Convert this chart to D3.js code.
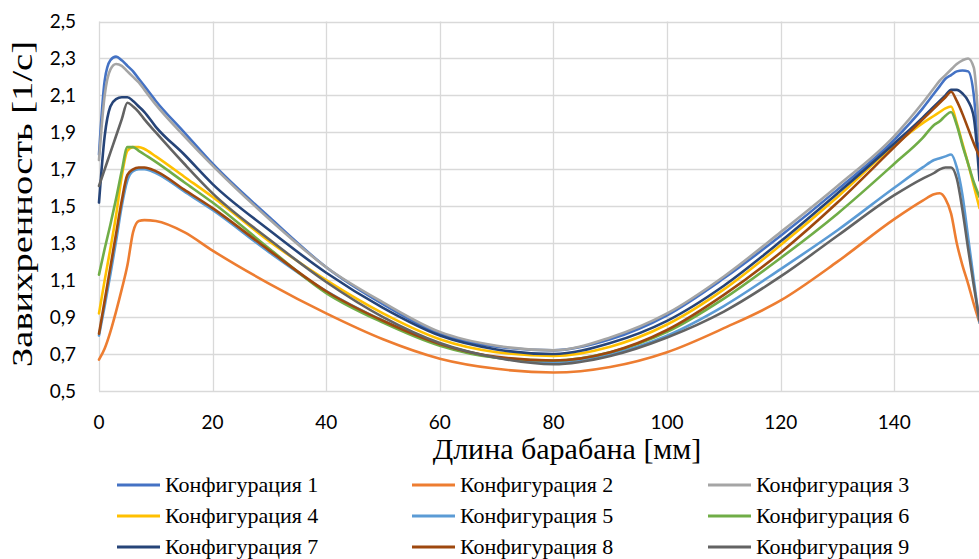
<!DOCTYPE html>
<html>
<head>
<meta charset="utf-8">
<script src="https://cdn.jsdelivr.net/npm/d3@7"></script>
<style>
  body { margin: 0; background: #fff; }
  svg { display: block; }
  .tick-lbl { font-family: Lato, "Open Sans", sans-serif; font-size: 19px; fill: #000; }
  .title { font-family: "Liberation Serif", "Times New Roman", serif; font-size: 30px; fill: #000; }
  .legend text { font-family: "Liberation Serif", "Times New Roman", serif; font-size: 22px; fill: #000; }
</style>
</head>
<body>
<div id="chart"></div>
<script>
// длина барабана, мм
var lengthMm = [0, 1, 2, 3, 4, 5, 6, 7, 8, 10, 15, 20, 30, 40, 50, 60, 70, 80, 90, 100, 110, 120, 130, 140, 145, 147, 148, 149, 150, 151, 152, 153, 154, 155];

var config1 = [1.78, 2.18, 2.29, 2.31, 2.29, 2.26, 2.23, 2.19, 2.15, 2.07, 1.90, 1.73, 1.44, 1.17, 0.97, 0.81, 0.74, 0.72, 0.78, 0.91, 1.11, 1.34, 1.59, 1.86, 2.03, 2.11, 2.15, 2.19, 2.21, 2.23, 2.235, 2.23, 2.10, 1.70];
var config2 = [0.67, 0.73, 0.82, 0.93, 1.05, 1.18, 1.36, 1.42, 1.425, 1.42, 1.36, 1.26, 1.08, 0.92, 0.78, 0.675, 0.62, 0.60, 0.63, 0.71, 0.84, 0.99, 1.20, 1.43, 1.53, 1.565, 1.57, 1.54, 1.46, 1.30, 1.18, 1.08, 0.97, 0.87];
var config3 = [1.75, 2.10, 2.24, 2.27, 2.26, 2.23, 2.20, 2.17, 2.13, 2.05, 1.88, 1.72, 1.43, 1.17, 0.98, 0.82, 0.745, 0.72, 0.79, 0.92, 1.12, 1.36, 1.61, 1.88, 2.06, 2.14, 2.18, 2.21, 2.24, 2.27, 2.29, 2.30, 2.25, 1.85];
var config4 = [0.92, 1.10, 1.27, 1.45, 1.66, 1.80, 1.82, 1.82, 1.81, 1.77, 1.66, 1.55, 1.31, 1.10, 0.92, 0.78, 0.71, 0.69, 0.74, 0.86, 1.05, 1.29, 1.55, 1.83, 1.95, 1.99, 2.01, 2.03, 2.04, 1.95, 1.84, 1.73, 1.61, 1.49];
var config5 = [0.80, 0.96, 1.13, 1.31, 1.50, 1.64, 1.69, 1.70, 1.70, 1.68, 1.58, 1.48, 1.25, 1.04, 0.88, 0.755, 0.68, 0.655, 0.70, 0.80, 0.96, 1.16, 1.37, 1.60, 1.71, 1.75, 1.76, 1.77, 1.78, 1.71, 1.56, 1.33, 1.10, 0.87];
var config6 = [1.13, 1.27, 1.40, 1.54, 1.69, 1.82, 1.82, 1.80, 1.78, 1.74, 1.63, 1.52, 1.27, 1.03, 0.87, 0.745, 0.68, 0.665, 0.71, 0.82, 1.00, 1.22, 1.46, 1.73, 1.87, 1.94, 1.96, 1.99, 2.01, 1.94, 1.83, 1.73, 1.63, 1.55];
var config7 = [1.52, 1.88, 2.04, 2.08, 2.09, 2.09, 2.07, 2.04, 2.01, 1.93, 1.78, 1.62, 1.37, 1.14, 0.95, 0.80, 0.725, 0.70, 0.76, 0.88, 1.07, 1.31, 1.57, 1.84, 1.98, 2.04, 2.07, 2.10, 2.13, 2.13, 2.11, 2.07, 1.98, 1.64];
var config8 = [0.81, 0.99, 1.17, 1.35, 1.53, 1.67, 1.70, 1.71, 1.71, 1.69, 1.59, 1.49, 1.26, 1.04, 0.88, 0.755, 0.685, 0.665, 0.71, 0.83, 1.02, 1.25, 1.52, 1.82, 1.97, 2.03, 2.06, 2.09, 2.12, 2.07, 2.00, 1.92, 1.84, 1.77];
var config9 = [1.61, 1.70, 1.79, 1.88, 1.97, 2.06, 2.04, 2.01, 1.97, 1.90, 1.73, 1.57, 1.32, 1.09, 0.90, 0.76, 0.68, 0.645, 0.69, 0.79, 0.93, 1.12, 1.34, 1.56, 1.65, 1.68, 1.70, 1.71, 1.71, 1.65, 1.48, 1.27, 1.07, 0.88];

var seriesNames = ["Конфигурация 1", "Конфигурация 2", "Конфигурация 3", "Конфигурация 4", "Конфигурация 5", "Конфигурация 6", "Конфигурация 7", "Конфигурация 8", "Конфигурация 9"];
var seriesValues = [config1, config2, config3, config4, config5, config6, config7, config8, config9];
var colors = ["#4472C4", "#ED7D31", "#A5A5A5", "#FFC000", "#5B9BD5", "#70AD47", "#264478", "#9E480E", "#636363"];

var xTicks = [0, 20, 40, 60, 80, 100, 120, 140];
var yTicks = [0.5, 0.7, 0.9, 1.1, 1.3, 1.5, 1.7, 1.9, 2.1, 2.3, 2.5];

var width = 979, height = 559;
var plotLeft = 99, plotRight = 979.5, plotTop = 21.5, plotBottom = 391;

var svg = d3.select("#chart").append("svg")
  .attr("width", width)
  .attr("height", height);

var x = d3.scaleLinear().domain([0, 155]).range([plotLeft, plotRight]);
var y = d3.scaleLinear().domain([0.5, 2.5]).range([plotBottom, plotTop]);

// сетка
var grid = svg.append("g").attr("class", "grid");
grid.selectAll("line.h")
  .data(yTicks)
  .enter().append("line")
  .attr("x1", plotLeft).attr("x2", width)
  .attr("y1", function (d) { return Math.round(y(d)) + 0.5; })
  .attr("y2", function (d) { return Math.round(y(d)) + 0.5; })
  .attr("stroke", "#d9d9d9")
  .attr("stroke-width", 1.3);
grid.selectAll("line.v")
  .data(xTicks)
  .enter().append("line")
  .attr("y1", plotTop).attr("y2", plotBottom)
  .attr("x1", function (d) { return Math.round(x(d)) + 0.5; })
  .attr("x2", function (d) { return Math.round(x(d)) + 0.5; })
  .attr("stroke", "#d9d9d9")
  .attr("stroke-width", 1.3);

// подписи осей
svg.append("g").selectAll("text")
  .data(yTicks)
  .enter().append("text")
  .attr("class", "tick-lbl")
  .attr("x", 76)
  .attr("y", function (d) { return y(d); })
  .attr("dy", "0.35em")
  .attr("text-anchor", "end")
  .text(function (d) { return d3.format(".1f")(d).replace(".", ","); });

svg.append("g").selectAll("text")
  .data(xTicks)
  .enter().append("text")
  .attr("class", "tick-lbl")
  .attr("x", function (d) { return x(d); })
  .attr("y", 429)
  .attr("text-anchor", "middle")
  .text(function (d) { return d; });

svg.append("text")
  .attr("class", "title")
  .attr("x", 567)
  .attr("y", 459)
  .attr("text-anchor", "middle")
  .text("Длина барабана [мм]");

svg.append("text")
  .attr("class", "title")
  .attr("transform", "translate(32,204) rotate(-90)")
  .attr("text-anchor", "middle")
  .attr("textLength", 326)
  .attr("lengthAdjust", "spacingAndGlyphs")
  .text("Завихренность [1/с]");

// линии
var line = d3.line()
  .x(function (d) { return x(d[0]); })
  .y(function (d) { return y(d[1]); })
  .curve(d3.curveMonotoneX);

svg.append("defs").append("clipPath").attr("id", "clip")
  .append("rect").attr("x", plotLeft - 2).attr("y", 0).attr("width", width - plotLeft + 2).attr("height", plotBottom + 2);

var lines = svg.append("g").attr("clip-path", "url(#clip)");
seriesValues.forEach(function (vals, i) {
  lines.append("path")
    .datum(lengthMm.map(function (m, j) { return [m, vals[j]]; }))
    .attr("fill", "none")
    .attr("stroke", colors[i])
    .attr("stroke-width", 2.6)
    .attr("stroke-linejoin", "round")
    .attr("stroke-linecap", "round")
    .attr("d", line);
});

// легенда
var legend = svg.append("g").attr("class", "legend");
var colX = [117, 412, 708];
var rowY = [485, 516, 547];
seriesNames.forEach(function (name, i) {
  var cx = colX[i % 3], cy = rowY[Math.floor(i / 3)];
  legend.append("line")
    .attr("x1", cx).attr("x2", cx + 43)
    .attr("y1", cy).attr("y2", cy)
    .attr("stroke", colors[i])
    .attr("stroke-width", 2.8);
  legend.append("text")
    .attr("x", cx + 48)
    .attr("y", cy)
    .attr("dy", "0.33em")
    .text(name);
});
</script>
</body>
</html>
